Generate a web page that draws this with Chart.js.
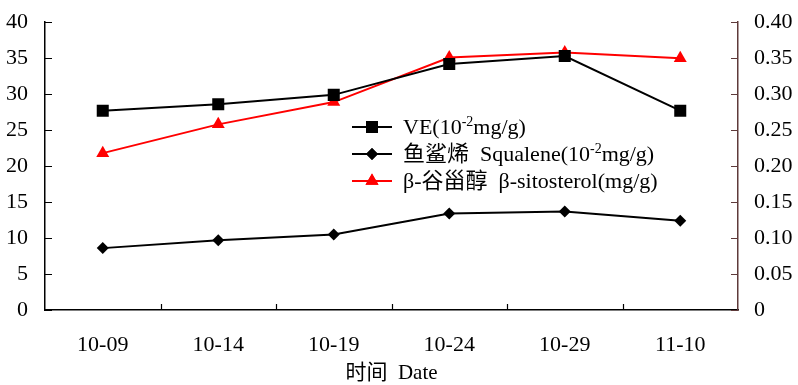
<!DOCTYPE html>
<html>
<head>
<meta charset="utf-8">
<script src="https://cdn.jsdelivr.net/npm/chart.js@4.4.0/dist/chart.umd.min.js"></script>
<style>
html,body{margin:0;padding:0;background:#fff;}
#wrap{width:798px;height:385px;position:relative;}
</style>
</head>
<body>
<div id="wrap"><canvas id="c" width="798" height="385"></canvas></div>
<script>
const categories = ['10-09', '10-14', '10-19', '10-24', '10-29', '11-10'];
const veValues = [27.7, 28.6, 29.9, 34.2, 35.3, 27.7];
const squaleneValues = [8.6, 9.7, 10.5, 13.4, 13.7, 12.4];
const sitosterolValues = [0.218, 0.258, 0.289, 0.351, 0.358, 0.350];
const seriesLabels = ['VE(10⁻²mg/g)', '鱼鲨烯  Squalene(10⁻²mg/g)', 'β-谷甾醇  β-sitosterol(mg/g)'];
const xTitle = '时间  Date';

const SERIF = '"Liberation Serif", "Times New Roman", "Noto Sans CJK SC", serif';
const AXIS_RIGHT_COLOR = '#5e3a3a';

const inwardTicks = {
  id: 'inwardTicks',
  afterDraw(chart) {
    const {ctx, chartArea, scales} = chart;
    ctx.save();
    ctx.lineWidth = 1.2;
    ctx.strokeStyle = '#000';
    ctx.beginPath();
    scales.y.ticks.forEach(t => {
      const py = Math.round(scales.y.getPixelForValue(t.value)) + 0.5;
      ctx.moveTo(chartArea.left, py); ctx.lineTo(chartArea.left + 7, py);
    });
    for (let i = 0; i < categories.length - 1; i++) {
      const px = Math.round((scales.x.getPixelForValue(i) + scales.x.getPixelForValue(i + 1)) / 2) + 0.5;
      ctx.moveTo(px, chartArea.bottom); ctx.lineTo(px, chartArea.bottom - 6);
    }
    ctx.stroke();
    ctx.strokeStyle = AXIS_RIGHT_COLOR;
    ctx.beginPath();
    scales.y1.ticks.forEach(t => {
      const py = Math.round(scales.y1.getPixelForValue(t.value)) + 0.5;
      ctx.moveTo(chartArea.right, py); ctx.lineTo(chartArea.right - 7, py);
    });
    ctx.stroke();
    ctx.restore();
  }
};

const supMap = {'⁻': '-', '²': '2'};
const customLegend = {
  id: 'customLegend',
  afterDraw(chart) {
    const {ctx} = chart;
    const x0 = 352, lineLen = 40, textX = 403;
    const rows = [127, 154, 181];
    ctx.save();
    chart.data.datasets.forEach((ds, i) => {
      const y = rows[i];
      ctx.strokeStyle = ds.borderColor;
      ctx.lineWidth = 2;
      ctx.beginPath(); ctx.moveTo(x0, y); ctx.lineTo(x0 + lineLen, y); ctx.stroke();
      ctx.fillStyle = ds.pointBackgroundColor;
      Chart.helpers.drawPoint(ctx, {pointStyle: ds.pointStyle, radius: ds.pointRadius, borderWidth: 0, rotation: 0}, x0 + lineLen / 2, y);
      ctx.fill();
      const parts = ds.label.split(/([⁻²]+)/);
      let tx = textX;
      ctx.fillStyle = '#000';
      ctx.textBaseline = 'middle';
      ctx.textAlign = 'left';
      parts.forEach(p => {
        if (!p) return;
        if (/^[⁻²]+$/.test(p)) {
          const s = p.split('').map(c => supMap[c]).join('');
          ctx.font = '14px ' + SERIF;
          ctx.fillText(s, tx, y - 5);
          tx += ctx.measureText(s).width;
        } else {
          ctx.font = '22px ' + SERIF;
          ctx.fillText(p, tx, y + 1);
          tx += ctx.measureText(p).width;
        }
      });
    });
    ctx.restore();
  }
};

new Chart(document.getElementById('c'), {
  type: 'line',
  data: {
    labels: categories,
    datasets: [
      {
        label: seriesLabels[0], data: veValues, yAxisID: 'y',
        borderColor: '#000', backgroundColor: '#000', pointBackgroundColor: '#000',
        borderWidth: 2, pointStyle: 'rect', pointRadius: 8.5, pointBorderWidth: 0, tension: 0
      },
      {
        label: seriesLabels[1], data: squaleneValues, yAxisID: 'y',
        borderColor: '#000', backgroundColor: '#000', pointBackgroundColor: '#000',
        borderWidth: 2, pointStyle: 'rectRot', pointRadius: 6, pointBorderWidth: 0, tension: 0
      },
      {
        label: seriesLabels[2], data: sitosterolValues, yAxisID: 'y1',
        borderColor: '#ff0000', backgroundColor: '#ff0000', pointBackgroundColor: '#ff0000',
        borderWidth: 2, pointStyle: 'triangle', pointRadius: 7.5, pointBorderWidth: 0, tension: 0
      }
    ]
  },
  options: {
    responsive: false,
    animation: false,
    layout: {padding: {top: 20, left: 0, right: 0, bottom: 0}},
    plugins: {legend: {display: false}, tooltip: {enabled: false}},
    scales: {
      x: {
        type: 'category', offset: true,
        grid: {display: false},
        border: {display: true, color: '#000', width: 1.5},
        ticks: {color: '#000', font: {family: SERIF, size: 22}, padding: 14, maxRotation: 0},
        title: {display: true, text: xTitle, color: '#000', font: {family: SERIF, size: 21}, padding: {top: 0, bottom: -1}},
        afterFit(s) { s.height = 75; }
      },
      y: {
        position: 'left', min: 0, max: 40,
        grid: {display: false},
        border: {display: true, color: '#000', width: 1.5},
        ticks: {stepSize: 5, color: '#000', font: {family: SERIF, size: 22}, padding: 9},
        afterFit(s) { s.width = 45; }
      },
      y1: {
        position: 'right', min: 0, max: 0.4,
        grid: {display: false},
        border: {display: true, color: AXIS_RIGHT_COLOR, width: 1.5},
        ticks: {stepSize: 0.05, color: '#000', font: {family: SERIF, size: 22}, padding: 8,
          callback: v => (Math.abs(v) < 1e-9 ? '0' : v.toFixed(2))},
        afterFit(s) { s.width = 60; }
      }
    }
  },
  plugins: [inwardTicks, customLegend]
});
</script>
</body>
</html>
